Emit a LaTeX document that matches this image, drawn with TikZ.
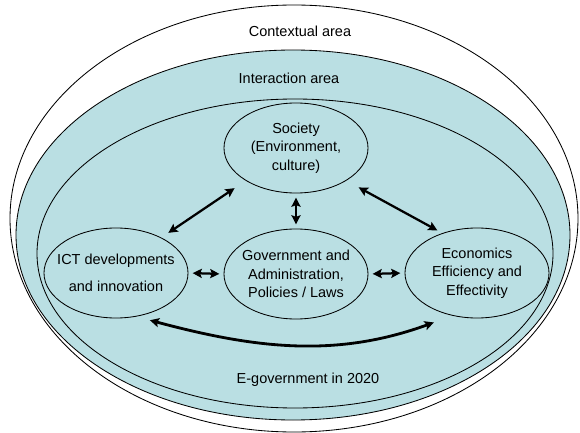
\documentclass[tikz,border=0pt]{standalone}
\usepackage{fontspec}
\setmainfont{Liberation Sans}
\usetikzlibrary{shapes.geometric}
\usetikzlibrary{arrows.meta}

\definecolor{egovblue}{RGB}{186,223,227}

\begin{document}
\begin{tikzpicture}[x=0.025cm,y=-0.025cm,
  font=\fontsize{10.3}{13}\selectfont,
  area/.style={draw,line width=0.6pt},
  field/.style={ellipse,draw,line width=0.6pt,fill=egovblue,minimum width=3.6cm,minimum height=2.25cm,inner sep=0pt},
  link/.style={{Stealth[length=6.5pt,width=6.5pt,inset=1.2pt]}-{Stealth[length=6.5pt,width=6.5pt,inset=1.2pt]},line width=1.6pt}]
 \useasboundingbox (0,0) rectangle (580,433);
 % the three nested areas
 \draw[area,fill=white](294,218.5) ellipse [x radius=284,y radius=213.5];
 \draw[area,fill=egovblue](293,235) ellipse [x radius=277,y radius=185];
 \draw[area](295,253.5) ellipse [x radius=258,y radius=154.5];
 \node (ctx) at (300,31) {Contextual area};
 \node (inter) at (289,78) {Interaction area};
 \node (egov) at (308,380) {E-government in 2020};
 % the four fields
 \node[field,label={[align=center]center:{Society\\(Environment,\\culture)}}] (soc) at (296,148) {};
 \node[field,label={[align=center]center:{ICT developments\\[6pt]and innovation}}] (ict) at (116,273) {};
 \node[field,label={[align=center]center:{Government and\\Administration,\\Policies / Laws}}] (gov) at (296,274) {};
 \node[field,label={[align=center]center:{Economics\\Efficiency and\\Effectivity}}] (econ) at (477,273) {};
 % relations
 \draw[link,shorten <=9.5pt,shorten >=6pt](soc.213) -- (ict.38);
 \draw[link,shorten <=3pt,shorten >=3pt](soc.south) -- (gov.north);
 \draw[link,shorten <=10pt,shorten >=4pt](soc.-33) -- (econ.131);
 \draw[link,shorten <=3pt,shorten >=3pt](ict.east) -- (gov.west);
 \draw[link,shorten <=3pt,shorten >=3pt](gov.east) -- (econ.west);
 \draw[link,line width=2pt,shorten <=10pt,shorten >=14pt](ict.-65) to[out=-15,in=200] (econ.-120);
\end{tikzpicture}
\end{document}
